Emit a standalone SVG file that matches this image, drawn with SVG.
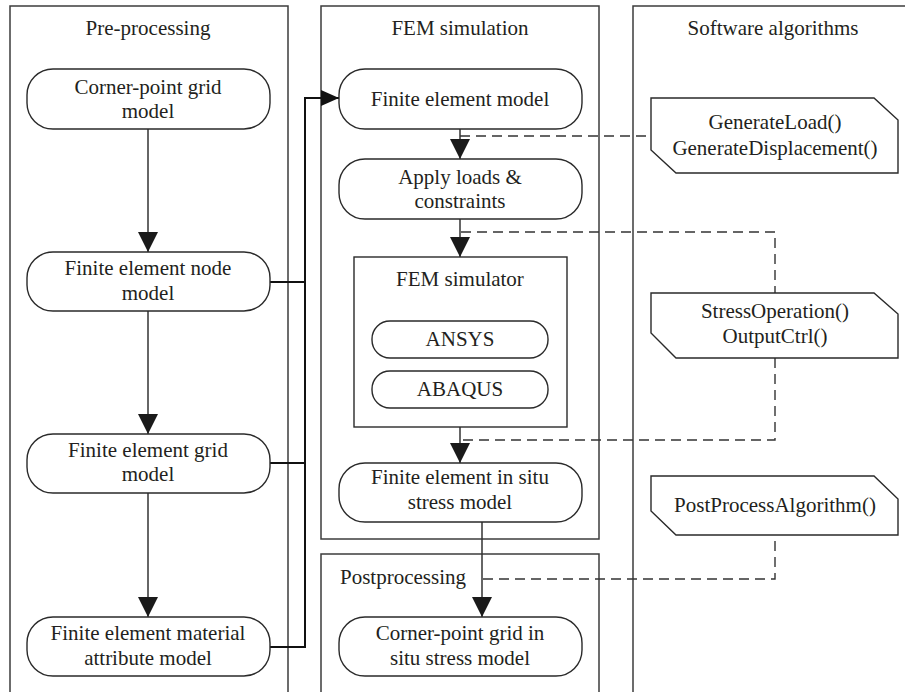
<svg xmlns="http://www.w3.org/2000/svg" width="905" height="692" viewBox="0 0 905 692">
<defs>
<style>
.lane{fill:none;stroke:#3c3c3c;stroke-width:1.5}
.node{fill:#fff;stroke:#2a2a2a;stroke-width:1.4}
.oct{fill:#fff;stroke:#2a2a2a;stroke-width:1.4}
.t{font-family:"Liberation Serif","Times New Roman",serif;font-size:21px;fill:#231f20;text-anchor:middle}
.flow{fill:none;stroke:#333;stroke-width:1.5}
.bold{fill:none;stroke:#111;stroke-width:2}
.dash{fill:none;stroke:#333;stroke-width:1.4;stroke-dasharray:10 6}
</style>
<marker id="ah" viewBox="0 0 20 20" refX="20" refY="10" markerWidth="20" markerHeight="20" markerUnits="userSpaceOnUse" orient="auto">
<path d="M0,0 L20,10 L0,20 z" fill="#1a1a1a"/>
</marker>
<marker id="ah2" viewBox="0 0 18 16" refX="18" refY="8" markerWidth="18" markerHeight="16" markerUnits="userSpaceOnUse" orient="auto">
<path d="M0,0 L18,8 L0,16 z" fill="#111"/>
</marker>
</defs>

<g id="lane-pre">
<path class="lane" d="M10,694 V6 H288 V694"/>
<text class="t" x="148" y="35">Pre-processing</text>
</g>
<g id="lane-fem">
<rect class="lane" x="321" y="6" width="278" height="533"/>
<text class="t" x="460" y="35">FEM simulation</text>
</g>
<g id="lane-post">
<path class="lane" d="M321,694 V554 H599 V694"/>
<text class="t" x="340" y="584" style="text-anchor:start">Postprocessing</text>
</g>
<g id="lane-sw">
<path class="lane" d="M633,694 V6 H907"/>
<text class="t" x="773" y="35">Software algorithms</text>
</g>

<g id="connectors">
<path class="flow" d="M148,129 V252" marker-end="url(#ah)"/>
<path class="flow" d="M148,311 V434" marker-end="url(#ah)"/>
<path class="flow" d="M148,493 V617" marker-end="url(#ah)"/>
<path class="bold" d="M270,282 H305"/>
<path class="bold" d="M270,463 H305"/>
<path class="bold" d="M270,647 H305 V98 H339" marker-end="url(#ah2)"/>
<path class="flow" d="M460,129 V159" marker-end="url(#ah)"/>
<path class="flow" d="M460,219 V257" marker-end="url(#ah)"/>
<path class="flow" d="M460,427 V463" marker-end="url(#ah)"/>
<path class="flow" d="M482,522 V617" marker-end="url(#ah)"/>
<path class="dash" d="M460,136 H651"/>
<path class="dash" d="M461,232 H775 V293"/>
<path class="dash" d="M775,358 V440 H461"/>
<path class="dash" d="M483,579 H775 V535"/>
</g>

<g id="n-cpg">
<rect class="node" x="27" y="69" width="243" height="60" rx="26"/>
<text class="t" x="148" y="94">Corner-point grid</text>
<text class="t" x="148" y="118">model</text>
</g>
<g id="n-fenode">
<rect class="node" x="27" y="252" width="243" height="59" rx="26"/>
<text class="t" x="148" y="275">Finite element node</text>
<text class="t" x="148" y="300">model</text>
</g>
<g id="n-fegrid">
<rect class="node" x="27" y="434" width="243" height="59" rx="26"/>
<text class="t" x="148" y="457">Finite element grid</text>
<text class="t" x="148" y="481">model</text>
</g>
<g id="n-femat">
<rect class="node" x="27" y="617" width="243" height="59" rx="26"/>
<text class="t" x="148" y="640">Finite element material</text>
<text class="t" x="148" y="665">attribute model</text>
</g>

<g id="n-fem">
<rect class="node" x="339" y="69" width="243" height="60" rx="26"/>
<text class="t" x="460" y="106">Finite element model</text>
</g>
<g id="n-loads">
<rect class="node" x="339" y="159" width="243" height="60" rx="26"/>
<text class="t" x="460" y="184">Apply loads &amp;</text>
<text class="t" x="460" y="208">constraints</text>
</g>
<g id="n-sim">
<rect class="node" x="354" y="257" width="213" height="170" rx="0"/>
<text class="t" x="460" y="286">FEM simulator</text>
</g>
<g id="n-ansys">
<rect class="node" x="372" y="321" width="176" height="37" rx="18"/>
<text class="t" x="460" y="346">ANSYS</text>
</g>
<g id="n-abaqus">
<rect class="node" x="372" y="371" width="176" height="37" rx="18"/>
<text class="t" x="460" y="396">ABAQUS</text>
</g>
<g id="n-insitu">
<rect class="node" x="339" y="463" width="243" height="59" rx="26"/>
<text class="t" x="460" y="484">Finite element in situ</text>
<text class="t" x="460" y="509">stress model</text>
</g>
<g id="n-cpginsitu">
<rect class="node" x="339" y="617" width="243" height="59" rx="26"/>
<text class="t" x="460" y="640">Corner-point grid in</text>
<text class="t" x="460" y="665">situ stress model</text>
</g>

<g id="a-gen">
<path class="oct" d="M651,98 H874 L898,120 V173 H676 L651,150 Z"/>
<text class="t" x="775" y="129">GenerateLoad()</text>
<text class="t" x="775" y="155">GenerateDisplacement()</text>
</g>
<g id="a-stress">
<path class="oct" d="M651,293 H874 L898,314 V358 H676 L651,333 Z"/>
<text class="t" x="775" y="318">StressOperation()</text>
<text class="t" x="775" y="343">OutputCtrl()</text>
</g>
<g id="a-post">
<path class="oct" d="M651,476 H874 L898,499 V535 H676 L651,511 Z"/>
<text class="t" x="775" y="512">PostProcessAlgorithm()</text>
</g>
</svg>
